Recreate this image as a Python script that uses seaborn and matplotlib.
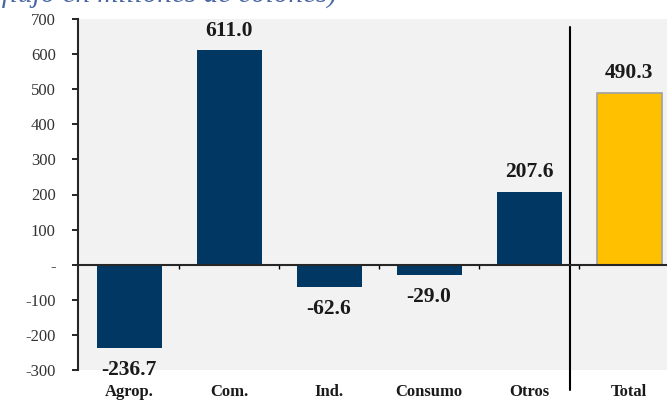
import matplotlib
matplotlib.use('Agg')
import matplotlib.pyplot as plt
import matplotlib.ticker as mticker
import seaborn as sns
import pandas as pd

# Datos
categorias = ['Agrop.', 'Com.', 'Ind.', 'Consumo', 'Otros', 'Total']
valores = [-236.7, 611.0, -62.6, -29.0, 207.6, 490.3]
colores = ['#003863', '#003863', '#003863', '#003863', '#003863', '#FFC000']
subtitulo = '(flujo en millones de colones)'

df = pd.DataFrame({'cat': categorias, 'val': valores})

sns.set_style('white')
plt.rcParams['font.family'] = ['Liberation Serif', 'DejaVu Serif']

fig = plt.figure(figsize=(6.67, 4.01), dpi=100)
ax = fig.add_axes([78 / 667, 1 - 370 / 401, 589 / 667, 351 / 401])
ax.set_facecolor('#F2F2F2')

sns.barplot(data=df, x='cat', y='val', hue='cat', palette=colores,
            legend=False, width=0.65, ax=ax, saturation=1, linewidth=0)

# borde gris en la barra del total
ax.patches[-1].set_edgecolor('#A0A0A0')
ax.patches[-1].set_linewidth(1.2)

ax.set_ylim(-300, 700)
ax.set_xlim(-0.51, 5.38)
ax.set_yticks(range(-300, 701, 100))
ax.yaxis.set_major_formatter(mticker.FuncFormatter(lambda v, p: '-' if v == 0 else f'{v:.0f}'))
ax.tick_params(axis='y', which='major', length=4, width=1.2, color='black',
               labelsize=12, labelcolor='#333333', left=True, pad=12)

# eje x en cero con marcas menores entre categorias
ax.spines['bottom'].set_position(('data', 0))
ax.spines['bottom'].set_linewidth(1.5)
ax.spines['left'].set_linewidth(1.5)
for s in ['top', 'right']:
    ax.spines[s].set_visible(False)
ax.set_xticks(range(len(categorias)))
ax.set_xticklabels([])
ax.xaxis.set_minor_locator(mticker.FixedLocator([i + 0.5 for i in range(len(categorias) - 1)]))
ax.tick_params(axis='x', which='major', length=0)
ax.tick_params(axis='x', which='minor', length=3, width=1, color='black', bottom=True)
ax.set_xlabel('')
ax.set_ylabel('')

for i, c in enumerate(categorias):
    ax.text(i, -0.04, c, transform=ax.get_xaxis_transform(), ha='center', va='top',
            fontsize=12, fontweight='bold', color='#1a1a1a')

# etiquetas de valores
for i, v in enumerate(valores):
    if v >= 0:
        ax.annotate(f'{v:.1f}', (i, v), xytext=(0, 7), textcoords='offset points',
                    ha='center', va='bottom', fontsize=15.5, fontweight='bold', color='#1a1a1a')
    else:
        ax.annotate(f'{v:.1f}', (i, v), xytext=(0, -9), textcoords='offset points',
                    ha='center', va='top', fontsize=15.5, fontweight='bold', color='#1a1a1a',
                    annotation_clip=False)

# separador antes del total
ax.axvline(4.41, ymin=-0.057, ymax=0.977, color='black', lw=1.5, clip_on=False)

fig.text(-0.012, 1 - 3 / 401, subtitulo, ha='left', va='baseline', fontsize=21,
         style='italic', color='#4A67A3')

fig.savefig('out.png', dpi=100)
